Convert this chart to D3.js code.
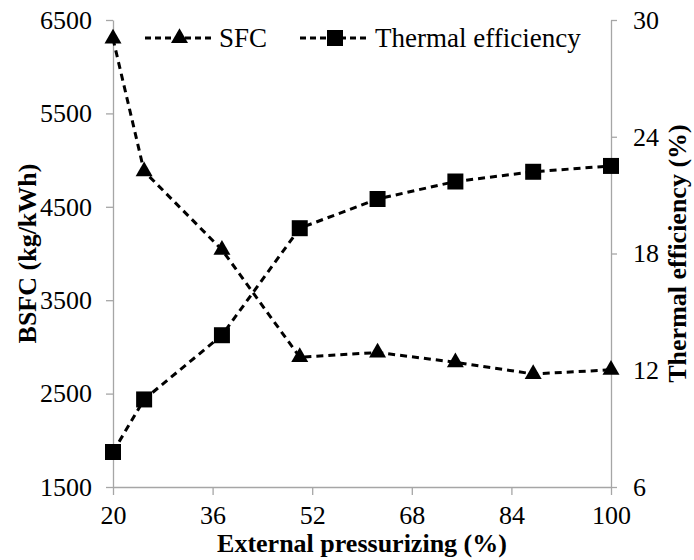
<!DOCTYPE html>
<html>
<head>
<meta charset="utf-8">
<script src="https://cdn.jsdelivr.net/npm/d3@7"></script>
<style>
  html, body { margin: 0; padding: 0; background: #fff; }
  svg { display: block; }
</style>
</head>
<body>
<svg id="chart" width="694" height="560"></svg>
<script>
// External pressurizing levels (%)
const pressurizing = [20, 25, 37.5, 50, 62.5, 75, 87.5, 100];
// Brake specific fuel consumption (kg/kWh)
const sfc = [6300, 4880, 4040, 2890, 2940, 2835, 2710, 2755];
// Thermal efficiency (%)
const thermalEff = [7.8, 10.5, 13.8, 19.3, 20.8, 21.7, 22.2, 22.5];

const xTicks = [20, 36, 52, 68, 84, 100];
const yLeftTicks = [1500, 2500, 3500, 4500, 5500, 6500];
const yRightTicks = [6, 12, 18, 24, 30];

const SERIF = '"Liberation Serif", "Times New Roman", Times, serif';

const svg = d3.select("#chart").style("font-family", SERIF);
const margin = { left: 113, right: 83, top: 20, bottom: 73 };
const W = 694, H = 560;

const x = d3.scaleLinear().domain([20, 100]).range([margin.left, W - margin.right]);
const yL = d3.scaleLinear().domain([1500, 6500]).range([H - margin.bottom, margin.top]);
const yR = d3.scaleLinear().domain([6, 30]).range([H - margin.bottom, margin.top]);

const axisColor = "#a6a6a6";
const tickFont = 26;
const fmt = d3.format("d");

function styleAxis(g) {
  g.attr("font-family", null).attr("font-size", null);
  g.select(".domain").attr("stroke", axisColor).attr("stroke-width", 1.3);
  g.selectAll(".tick line").attr("stroke", axisColor).attr("stroke-width", 1.3);
  g.selectAll(".tick text")
    .style("font-family", SERIF)
    .style("font-size", tickFont + "px")
    .attr("fill", "#000");
}

svg.append("g")
  .attr("transform", `translate(0,${H - margin.bottom})`)
  .call(d3.axisBottom(x).tickValues(xTicks).tickFormat(fmt).tickSize(8).tickSizeOuter(0).tickPadding(11))
  .call(styleAxis);

svg.append("g")
  .attr("transform", `translate(${margin.left},0)`)
  .call(d3.axisLeft(yL).tickValues(yLeftTicks).tickFormat(fmt).tickSize(7).tickSizeOuter(0).tickPadding(14))
  .call(styleAxis);

svg.append("g")
  .attr("transform", `translate(${W - margin.right},0)`)
  .call(d3.axisRight(yR).tickValues(yRightTicks).tickFormat(fmt).tickSize(6).tickSizeOuter(0).tickPadding(16))
  .call(styleAxis);

// Series lines
const dash = "7,5";
const sfcData = pressurizing.map((p, i) => [p, sfc[i]]);
const effData = pressurizing.map((p, i) => [p, thermalEff[i]]);

svg.append("path")
  .datum(sfcData)
  .attr("fill", "none").attr("stroke", "#000").attr("stroke-width", 3)
  .attr("stroke-dasharray", dash)
  .attr("d", d3.line().x(d => x(d[0])).y(d => yL(d[1])));

svg.append("path")
  .datum(effData)
  .attr("fill", "none").attr("stroke", "#000").attr("stroke-width", 3)
  .attr("stroke-dasharray", dash)
  .attr("d", d3.line().x(d => x(d[0])).y(d => yR(d[1])));

const tri = d3.symbol().type(d3.symbolTriangle).size(125);
const sq = d3.symbol().type(d3.symbolSquare).size(256);

svg.append("g").selectAll("path").data(sfcData).join("path")
  .attr("d", tri)
  .attr("transform", d => `translate(${x(d[0])},${yL(d[1])})`)
  .attr("fill", "#000");

svg.append("g").selectAll("path").data(effData).join("path")
  .attr("d", sq)
  .attr("transform", d => `translate(${x(d[0])},${yR(d[1])})`)
  .attr("fill", "#000");

// Legend
const legY = 38;
const leg = svg.append("g");
function legendItem(x0, x1, sym, label) {
  leg.append("line").attr("x1", x0).attr("x2", x1).attr("y1", legY).attr("y2", legY)
    .attr("stroke", "#000").attr("stroke-width", 3).attr("stroke-dasharray", "6,4");
  leg.append("path").attr("d", sym).attr("transform", `translate(${(x0 + x1) / 2},${legY})`).attr("fill", "#000");
  leg.append("text").attr("x", x1 + 5).attr("y", legY).attr("dy", "0.35em")
    .style("font-size", "27px").text(label);
}
legendItem(145, 214, tri, "SFC");
legendItem(300, 370, sq, "Thermal efficiency");

// Axis titles
svg.append("text")
  .attr("x", (margin.left + W - margin.right) / 2).attr("y", 552)
  .attr("text-anchor", "middle").style("font-size", "26px").attr("font-weight", "bold")
  .text("External pressurizing (%)");

svg.append("text")
  .attr("transform", `translate(27,${(margin.top + H - margin.bottom) / 2}) rotate(-90)`)
  .attr("text-anchor", "middle").attr("dy", "0.35em")
  .style("font-size", "26px").attr("font-weight", "bold")
  .text("BSFC (kg/kWh)");

svg.append("text")
  .attr("transform", `translate(677,${(margin.top + H - margin.bottom) / 2}) rotate(-90)`)
  .attr("text-anchor", "middle").attr("dy", "0.35em")
  .style("font-size", "26px").attr("font-weight", "bold")
  .text("Thermal efficiency (%)");
</script>
</body>
</html>
